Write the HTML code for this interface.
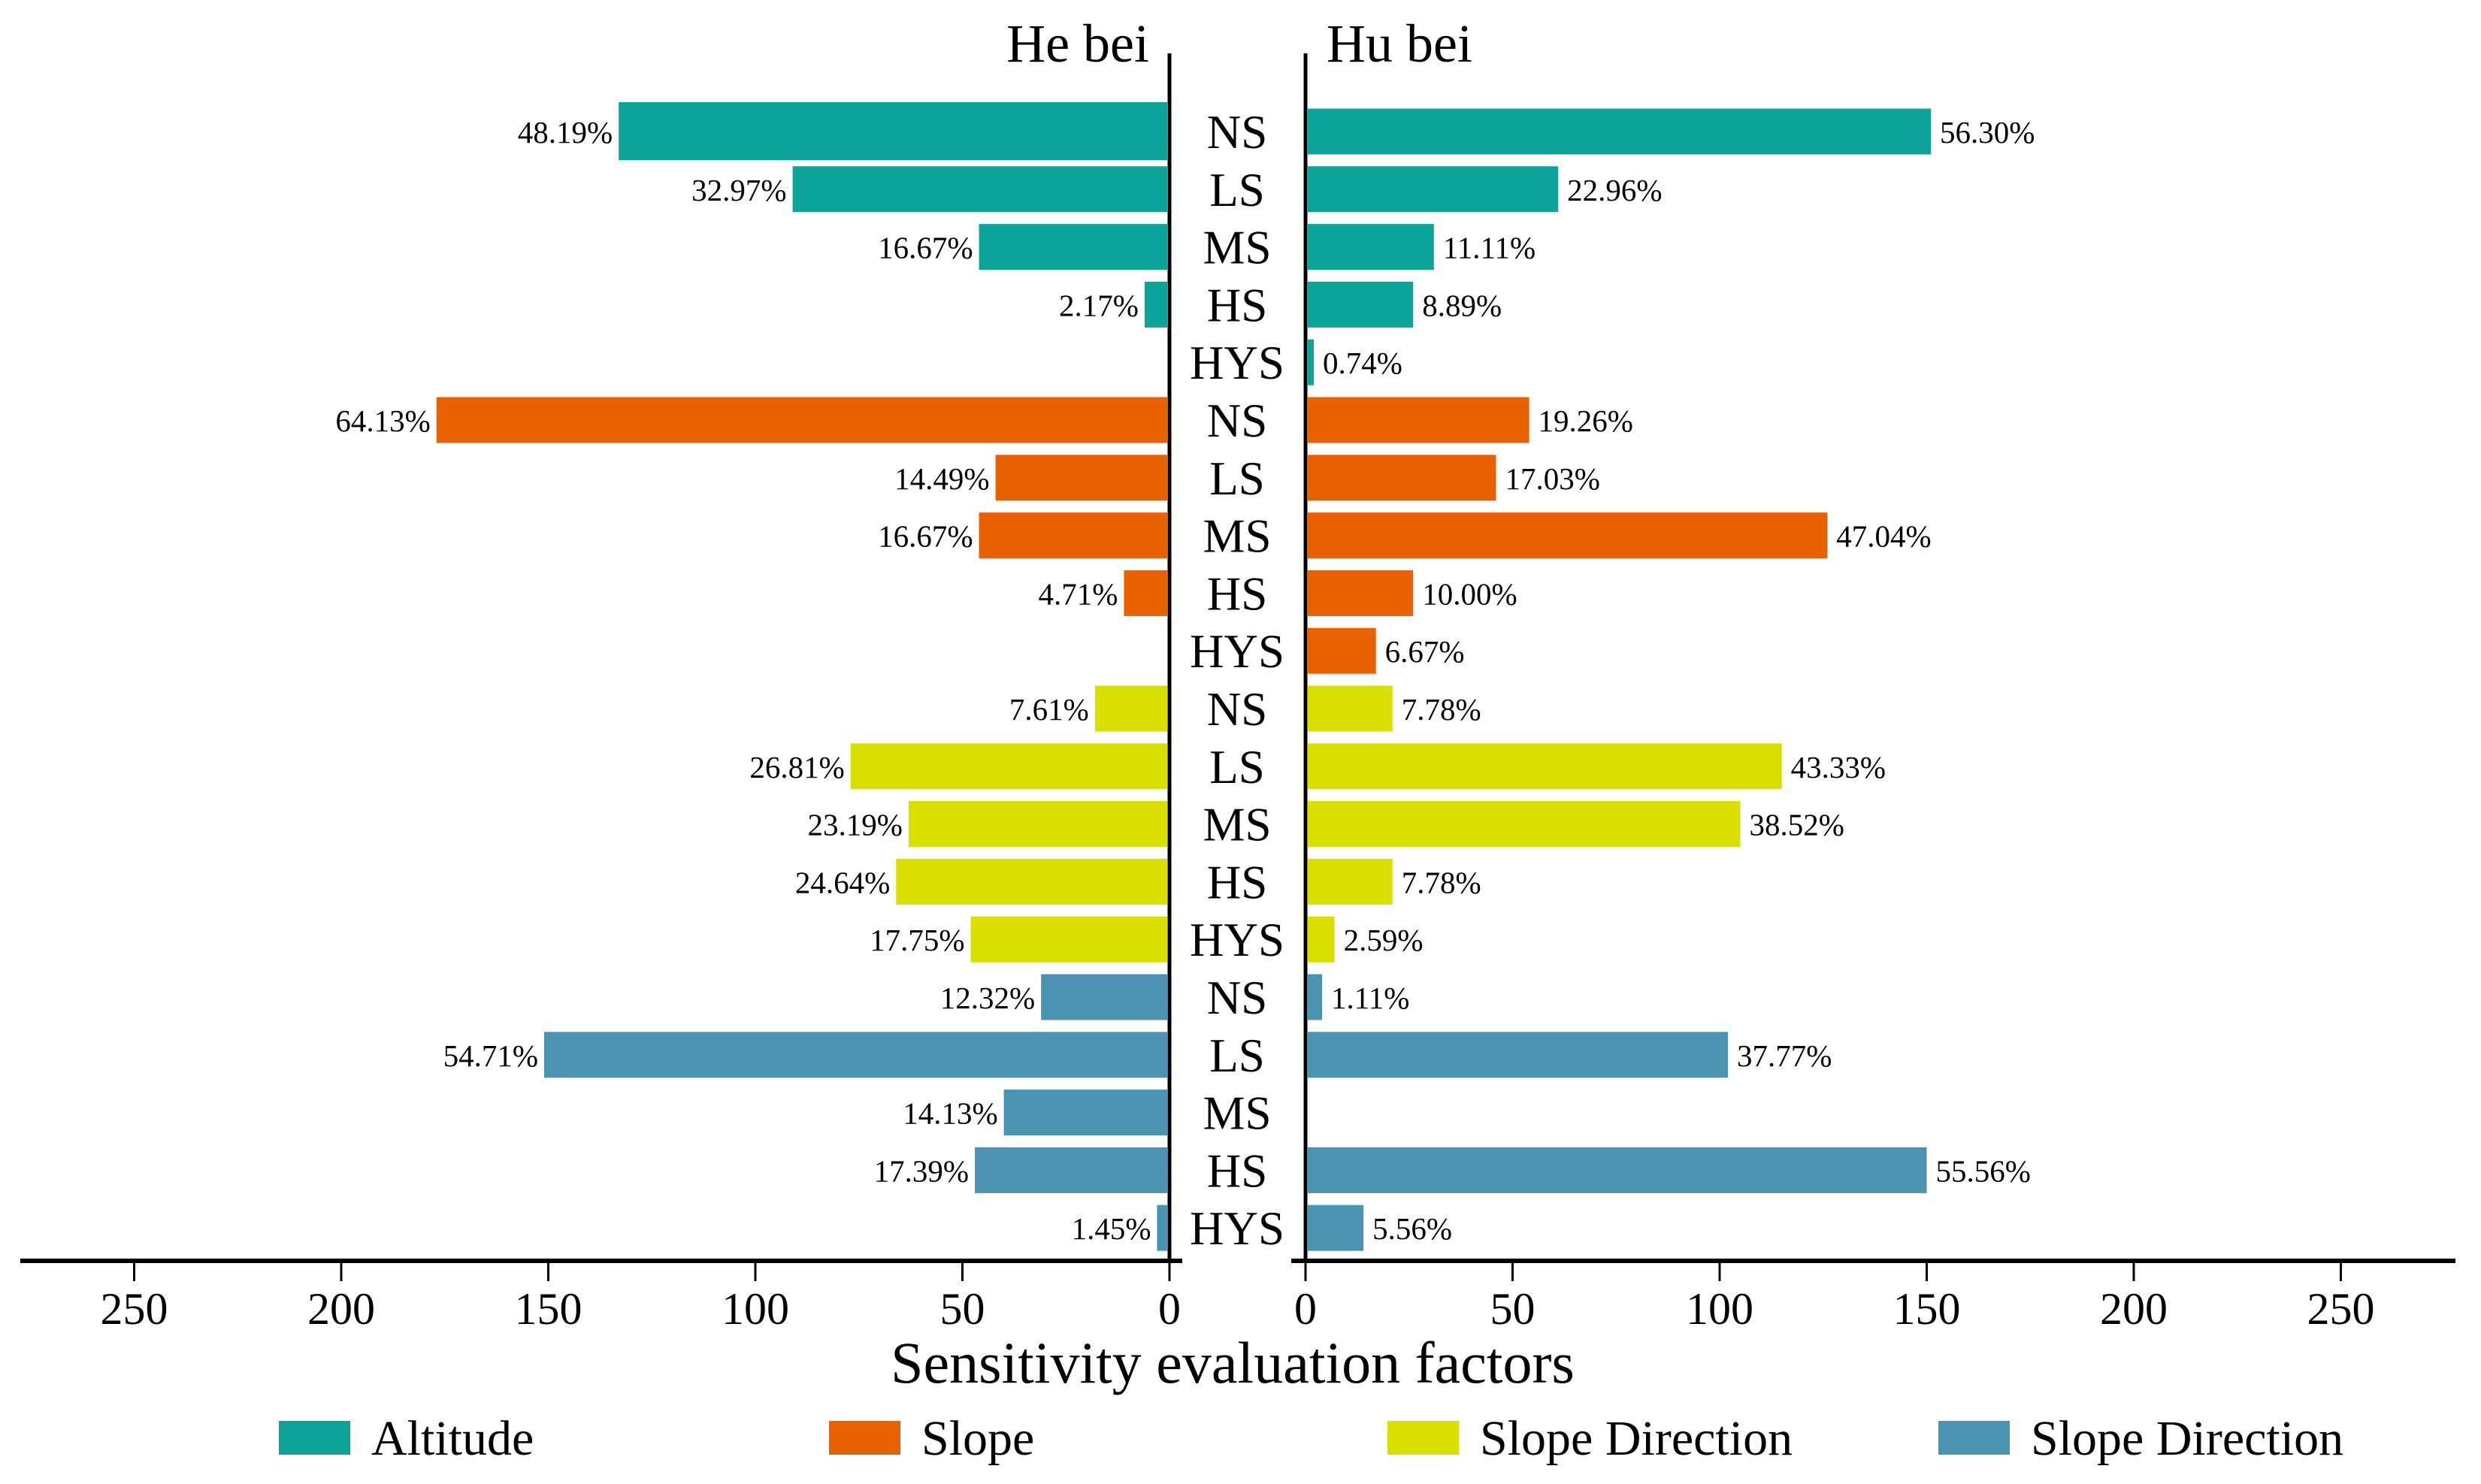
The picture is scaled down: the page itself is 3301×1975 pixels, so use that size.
<!DOCTYPE html>
<html><head><meta charset="utf-8"><style>
html,body{margin:0;padding:0;background:#fff;}
svg{display:block;font-family:"Liberation Serif",serif;}
</style></head><body>
<svg id="chart" width="3301" height="1975" viewBox="0 0 3301 1975" xmlns="http://www.w3.org/2000/svg">
<g id="bars"></g>
<g id="axes"></g>
<g id="legend"></g>
</svg>
<script>
const categories = ["NS","LS","MS","HS","HYS","NS","LS","MS","HS","HYS","NS","LS","MS","HS","HYS","NS","LS","MS","HS","HYS"];
const groups = [0,0,0,0,0,1,1,1,1,1,2,2,2,2,2,3,3,3,3,3];
const heBeiValues = [133,91,46,6,0, 177,42,46,11,0, 18,77,63,66,48, 31,151,40,47,3];
const heBeiLabels = ["48.19%","32.97%","16.67%","2.17%","", "64.13%","14.49%","16.67%","4.71%","", "7.61%","26.81%","23.19%","24.64%","17.75%", "12.32%","54.71%","14.13%","17.39%","1.45%"];
const huBeiValues = [151,61,31,26,2, 54,46,126,26,17, 21,115,105,21,7, 4,102,0,150,14];
const huBeiLabels = ["56.30%","22.96%","11.11%","8.89%","0.74%", "19.26%","17.03%","47.04%","10.00%","6.67%", "7.78%","43.33%","38.52%","7.78%","2.59%", "1.11%","37.77%","","55.56%","5.56%"];
const tickValues = [0,50,100,150,200,250];
const legendLabels = ["Altitude","Slope","Slope Direction","Slope Direction"];
const colors = ["#0ca39a","#e96100","#d9e000","#4b93b0"];

const NS = "http://www.w3.org/2000/svg";
const zeroL = 1556, zeroR = 1737, pxPerUnit = 5.51;
const xL = v => zeroL - v * pxPerUnit;
const xR = v => zeroR + v * pxPerUnit;
const yC = i => 175 + i * 76.8;
const barH = 61;
function mk(tag, attrs, parent, text){
  const e = document.createElementNS(NS, tag);
  for (const k in attrs) e.setAttribute(k, attrs[k]);
  if (text !== undefined) e.textContent = text;
  parent.appendChild(e);
  return e;
}
const gb = document.getElementById('bars');
const ga = document.getElementById('axes');
const gl = document.getElementById('legend');

categories.forEach((c, i) => {
  const y = yC(i);
  const col = colors[groups[i]];
  if (heBeiValues[i] > 0) {
    const h = i === 0 ? 77 : barH;
    const r = mk('rect', {x: xL(heBeiValues[i]), y: y - (i === 0 ? 39 : barH/2), width: heBeiValues[i]*pxPerUnit - 3, height: h, fill: col}, gb);
    
    
  }
  if (heBeiLabels[i]) {
    const t = mk('text', {x: xL(heBeiValues[i]) - 8, y: y + 15, 'font-size': 41, 'text-anchor': 'end', fill: '#000'}, gb, heBeiLabels[i]);
    
    
  }
  if (huBeiValues[i] > 0) {
    const r = mk('rect', {x: zeroR + 3, y: y - barH/2, width: huBeiValues[i]*pxPerUnit - 3, height: barH, fill: col}, gb);
    
    
  }
  if (huBeiLabels[i]) {
    const t = mk('text', {x: xR(huBeiValues[i]) + 12, y: y + 15, 'font-size': 41, fill: '#000'}, gb, huBeiLabels[i]);
    
    
  }
  const cl = mk('text', {x: 1646, y: y + 22, 'font-size': 63, 'text-anchor': 'middle', fill: '#000'}, gb, c);
  
  
});

let s = mk('line', {x1: zeroL, y1: 71, x2: zeroL, y2: 1680, stroke: '#000', 'stroke-width': 5}, ga);


s = mk('line', {x1: zeroR, y1: 71, x2: zeroR, y2: 1680, stroke: '#000', 'stroke-width': 5}, ga);


s = mk('line', {x1: 27, y1: 1678, x2: 1573, y2: 1678, stroke: '#000', 'stroke-width': 6}, ga);


s = mk('line', {x1: 1718, y1: 1678, x2: 3267, y2: 1678, stroke: '#000', 'stroke-width': 6}, ga);



tickValues.forEach(v => {
  [xL(v), xR(v)].forEach(x => {
    const tk = mk('line', {x1: x, y1: 1678, x2: x, y2: 1705, stroke: '#000', 'stroke-width': 3}, ga);
    
    
    const tl = mk('text', {x: x, y: 1762, 'font-size': 60, 'text-anchor': 'middle', fill: '#000'}, ga, String(v));
    
    
  });
});

let t = mk('text', {x: 1640, y: 1840, 'font-size': 78, 'text-anchor': 'middle', fill: '#000'}, ga, 'Sensitivity evaluation factors');


t = mk('text', {x: 1529, y: 82, 'font-size': 72, 'text-anchor': 'end', fill: '#000'}, ga, 'He bei');


t = mk('text', {x: 1765, y: 82, 'font-size': 72, fill: '#000'}, ga, 'Hu bei');



const legX = [371, 1103, 1846, 2579];
legendLabels.forEach((l, i) => {
  const r = mk('rect', {x: legX[i], y: 1891, width: 95, height: 45, fill: colors[i]}, gl);
  
  
  const tt = mk('text', {x: legX[i] + 123, y: 1936, 'font-size': 66, fill: '#000'}, gl, l);
  
  
});
</script>
</body></html>
